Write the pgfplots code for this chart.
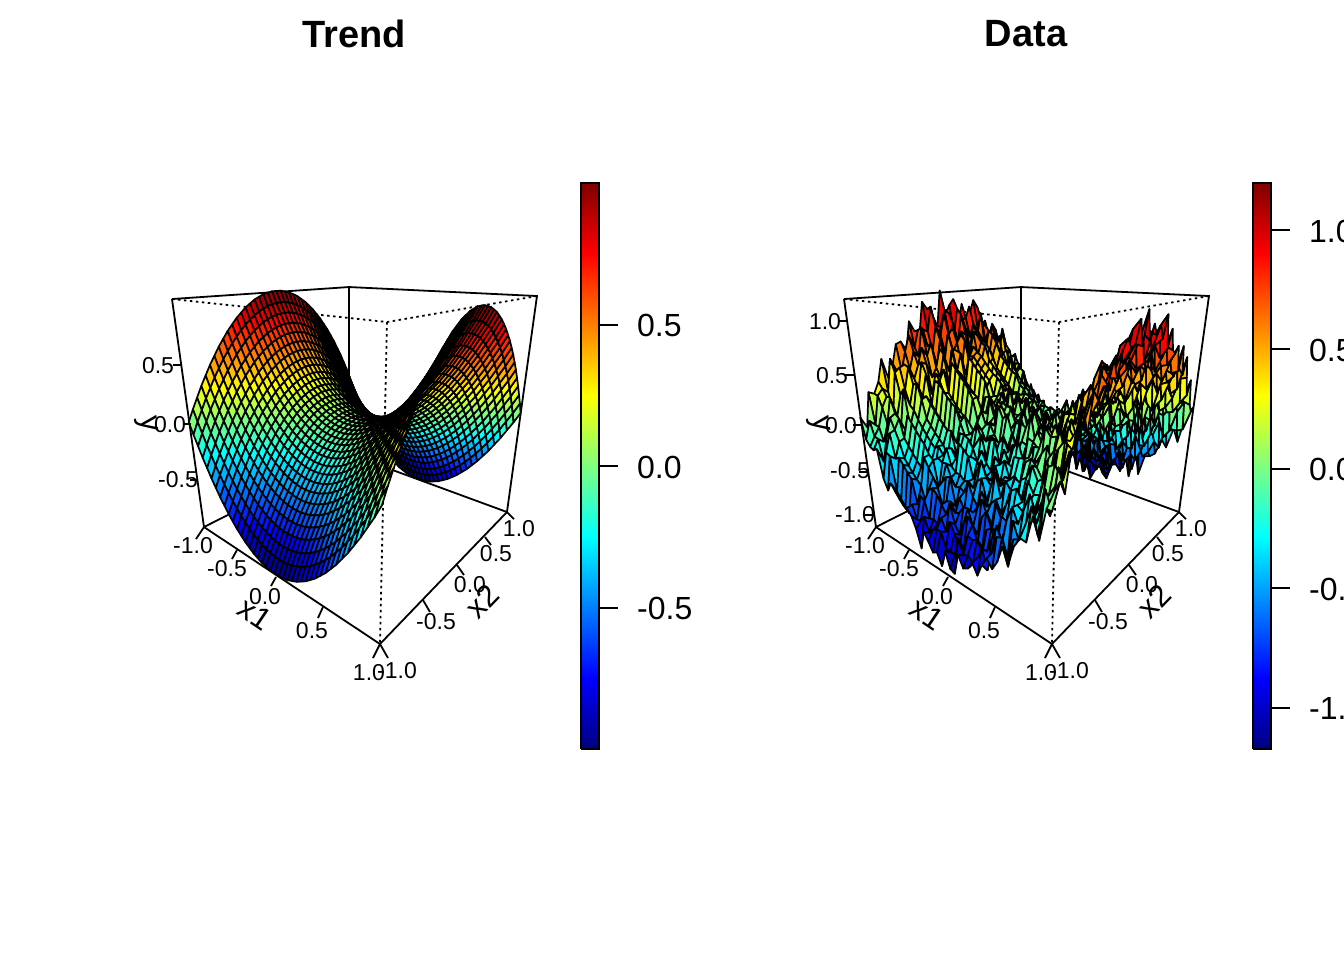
\documentclass[border=0pt]{standalone}
\usepackage{pgfplots}
\usepackage{pgfplotstable}
\usepackage{fontspec}
\setmainfont{Liberation Sans}
\pgfplotsset{compat=1.18}
\newcommand{\N}{41}
% each row of a grid is typed on its own, \R keeps it at exactly 41 values
\newtoks\dtoks
\newcount\colcnt
\def\R#1{\colcnt=0
  \pgfplotsforeachungrouped \v in {#1}{%
    \ifnum\colcnt<41
      \edef\tmp{\the\dtoks \v\space 0 0\noexpand\\ }\dtoks=\expandafter{\tmp}%
      \edef\lastv{\v}\advance\colcnt by 1
    \fi}%
  \loop\ifnum\colcnt<41
    \edef\tmp{\the\dtoks \lastv\space 0 0\noexpand\\ }\dtoks=\expandafter{\tmp}%
    \advance\colcnt by 1
  \repeat}
\def\savetable#1{\edef\tmp{\noexpand\pgfplotstableread[row sep=\noexpand\\,header=false,format=inline]{\the\dtoks}\noexpand#1}\tmp\dtoks={}}
\pgfplotsset{
  colormap={rjet}{rgb255=(0,0,127) rgb255=(0,0,255) rgb255=(0,127,255) rgb255=(0,255,255) rgb255=(127,255,127) rgb255=(255,255,0) rgb255=(255,127,0) rgb255=(255,0,0) rgb255=(127,0,0)},
  panel/.style={
    scale only axis, width=672pt, height=960pt,
    xmin=0, xmax=672, ymin=0, ymax=960, zmin=-2, zmax=2,
    y dir=reverse, view={0}{90}, hide axis, clip=false,
    anchor=south west, colormap name=rjet,
    declare function={
      rowx(\i)=-1+2*floor((\i+0.5)/41)/40;
      colx(\i)=1-2*(\i-41*floor((\i+0.5)/41))/40;
      pjw(\a,\b,\c)=1.1-0.1787*\a+0.212*\b-0.1*\c;
      pjx(\a,\b,\c)=(395.7+34.765*\a+159.54*\b-35.13*\c)/pjw(\a,\b,\c);
      pjy(\a,\b,\c)=(459.17-45.94*\a+54.83*\b-162.2*\c)/pjw(\a,\b,\c);
    },
  },
  edge/.style={black, line width=1.8pt, no markers},
  dots/.style={black, line width=1.8pt, no markers, dash pattern=on 2.5pt off 3.5pt},
  facets/.style={surf, shader=faceted, faceted color=black, line width=1.7pt, line join=round, z buffer=none},
}
% Trend
\R{0,.10,.19,.28,.36,.44,.51,.58,.64,.70,
.75,.80,.84,.88,.91,.94,.96,.98,.99,1,
1,1,.99,.98,.96,.94,.91,.88,.84,.80,
.75,.70,.64,.58,.51,.44,.36,.28,.19,.10,0}
\R{-.10,0,.09,.18,.26,.34,.41,.48,.54,.60,
.65,.70,.74,.78,.81,.84,.86,.88,.89,.90,
.90,.90,.89,.88,.86,.84,.81,.78,.74,.70,
.65,.60,.54,.48,.41,.34,.26,.18,.09,0,-.10}
\R{-.19,-.09,0,.09,.17,.25,.32,.39,.45,.51,
.56,.61,.65,.69,.72,.75,.77,.79,.80,.81,
.81,.81,.80,.79,.77,.75,.72,.69,.65,.61,
.56,.51,.45,.39,.32,.25,.17,.09,0,-.09,-.19}
\R{-.28,-.18,-.09,0,.08,.16,.23,.30,.36,.42,
.47,.52,.56,.60,.63,.66,.68,.70,.71,.72,
.72,.72,.71,.70,.68,.66,.63,.60,.56,.52,
.47,.42,.36,.30,.23,.16,.08,0,-.09,-.18,-.28}
\R{-.36,-.26,-.17,-.08,0,.08,.15,.22,.28,.34,
.39,.44,.48,.52,.55,.58,.60,.62,.63,.64,
.64,.64,.63,.62,.60,.58,.55,.52,.48,.44,
.39,.34,.28,.22,.15,.08,0,-.08,-.17,-.26,-.36}
\R{-.44,-.34,-.25,-.16,-.08,0,.07,.14,.20,.26,
.31,.36,.40,.44,.47,.50,.52,.54,.55,.56,
.56,.56,.55,.54,.52,.50,.47,.44,.40,.36,
.31,.26,.20,.14,.07,0,-.08,-.16,-.25,-.34,-.44}
\R{-.51,-.41,-.32,-.23,-.15,-.07,0,.07,.13,.19,
.24,.29,.33,.37,.40,.43,.45,.47,.48,.49,
.49,.49,.48,.47,.45,.43,.40,.37,.33,.29,
.24,.19,.13,.07,0,-.07,-.15,-.23,-.32,-.41,-.51}
\R{-.58,-.48,-.39,-.30,-.22,-.14,-.07,0,.06,.12,
.17,.22,.26,.30,.33,.36,.38,.40,.41,.42,
.42,.42,.41,.40,.38,.36,.33,.30,.26,.22,
.17,.12,.06,0,-.07,-.14,-.22,-.30,-.39,-.48,-.58}
\R{-.64,-.54,-.45,-.36,-.28,-.20,-.13,-.06,0,.06,
.11,.16,.20,.24,.27,.30,.32,.34,.35,.36,
.36,.36,.35,.34,.32,.30,.27,.24,.20,.16,
.11,.06,0,-.06,-.13,-.20,-.28,-.36,-.45,-.54,-.64}
\R{-.70,-.60,-.51,-.42,-.34,-.26,-.19,-.12,-.06,0,
.05,.10,.14,.18,.21,.24,.26,.28,.29,.30,
.30,.30,.29,.28,.26,.24,.21,.18,.14,.10,
.05,0,-.06,-.12,-.19,-.26,-.34,-.42,-.51,-.60,-.70}
\R{-.75,-.65,-.56,-.47,-.39,-.31,-.24,-.17,-.11,-.05,
0,.05,.09,.13,.16,.19,.21,.23,.24,.25,
.25,.25,.24,.23,.21,.19,.16,.13,.09,.05,
0,-.05,-.11,-.17,-.24,-.31,-.39,-.47,-.56,-.65,-.75}
\R{-.80,-.70,-.61,-.52,-.44,-.36,-.29,-.22,-.16,-.10,
-.05,0,.04,.08,.11,.14,.16,.18,.19,.20,
.20,.20,.19,.18,.16,.14,.11,.08,.04,0,
-.05,-.10,-.16,-.22,-.29,-.36,-.44,-.52,-.61,-.70,-.80}
\R{-.84,-.74,-.65,-.56,-.48,-.40,-.33,-.26,-.20,-.14,
-.09,-.04,0,.04,.07,.10,.12,.14,.15,.16,
.16,.16,.15,.14,.12,.10,.07,.04,0,-.04,
-.09,-.14,-.20,-.26,-.33,-.40,-.48,-.56,-.65,-.74,-.84}
\R{-.88,-.78,-.69,-.60,-.52,-.44,-.37,-.30,-.24,-.18,
-.13,-.08,-.04,0,.03,.06,.08,.10,.11,.12,
.12,.12,.11,.10,.08,.06,.03,0,-.04,-.08,
-.13,-.18,-.24,-.30,-.37,-.44,-.52,-.60,-.69,-.78,-.88}
\R{-.91,-.81,-.72,-.63,-.55,-.47,-.40,-.33,-.27,-.21,
-.16,-.11,-.07,-.03,0,.03,.05,.07,.08,.09,
.09,.09,.08,.07,.05,.03,0,-.03,-.07,-.11,
-.16,-.21,-.27,-.33,-.40,-.47,-.55,-.63,-.72,-.81,-.91}
\R{-.94,-.84,-.75,-.66,-.58,-.50,-.43,-.36,-.30,-.24,
-.19,-.14,-.10,-.06,-.03,0,.02,.04,.05,.06,
.06,.06,.05,.04,.02,0,-.03,-.06,-.10,-.14,
-.19,-.24,-.30,-.36,-.43,-.50,-.58,-.66,-.75,-.84,-.94}
\R{-.96,-.86,-.77,-.68,-.60,-.52,-.45,-.38,-.32,-.26,
-.21,-.16,-.12,-.08,-.05,-.02,0,.02,.03,.04,
.04,.04,.03,.02,0,-.02,-.05,-.08,-.12,-.16,
-.21,-.26,-.32,-.38,-.45,-.52,-.60,-.68,-.77,-.86,-.96}
\R{-.98,-.88,-.79,-.70,-.62,-.54,-.47,-.40,-.34,-.28,
-.23,-.18,-.14,-.10,-.07,-.04,-.02,0,.01,.02,
.02,.02,.01,0,-.02,-.04,-.07,-.10,-.14,-.18,
-.23,-.28,-.34,-.40,-.47,-.54,-.62,-.70,-.79,-.88,-.98}
\R{-.99,-.89,-.80,-.71,-.63,-.55,-.48,-.41,-.35,-.29,
-.24,-.19,-.15,-.11,-.08,-.05,-.03,-.01,0,.01,
.01,.01,0,-.01,-.03,-.05,-.08,-.11,-.15,-.19,
-.24,-.29,-.35,-.41,-.48,-.55,-.63,-.71,-.80,-.89,-.99}
\R{-1,-.90,-.81,-.72,-.64,-.56,-.49,-.42,-.36,-.30,
-.25,-.20,-.16,-.12,-.09,-.06,-.04,-.02,-.01,0,
0,0,-.01,-.02,-.04,-.06,-.09,-.12,-.16,-.20,
-.25,-.30,-.36,-.42,-.49,-.56,-.64,-.72,-.81,-.90,-1}
\R{-1,-.90,-.81,-.72,-.64,-.56,-.49,-.42,-.36,-.30,
-.25,-.20,-.16,-.12,-.09,-.06,-.04,-.02,-.01,0,
0,0,-.01,-.02,-.04,-.06,-.09,-.12,-.16,-.20,
-.25,-.30,-.36,-.42,-.49,-.56,-.64,-.72,-.81,-.90,-1}
\R{-1,-.90,-.81,-.72,-.64,-.56,-.49,-.42,-.36,-.30,
-.25,-.20,-.16,-.12,-.09,-.06,-.04,-.02,-.01,0,
0,0,-.01,-.02,-.04,-.06,-.09,-.12,-.16,-.20,
-.25,-.30,-.36,-.42,-.49,-.56,-.64,-.72,-.81,-.90,-1}
\R{-.99,-.89,-.80,-.71,-.63,-.55,-.48,-.41,-.35,-.29,
-.24,-.19,-.15,-.11,-.08,-.05,-.03,-.01,0,.01,
.01,.01,0,-.01,-.03,-.05,-.08,-.11,-.15,-.19,
-.24,-.29,-.35,-.41,-.48,-.55,-.63,-.71,-.80,-.89,-.99}
\R{-.98,-.88,-.79,-.70,-.62,-.54,-.47,-.40,-.34,-.28,
-.23,-.18,-.14,-.10,-.07,-.04,-.02,0,.01,.02,
.02,.02,.01,0,-.02,-.04,-.07,-.10,-.14,-.18,
-.23,-.28,-.34,-.40,-.47,-.54,-.62,-.70,-.79,-.88,-.98}
\R{-.96,-.86,-.77,-.68,-.60,-.52,-.45,-.38,-.32,-.26,
-.21,-.16,-.12,-.08,-.05,-.02,0,.02,.03,.04,
.04,.04,.03,.02,0,-.02,-.05,-.08,-.12,-.16,
-.21,-.26,-.32,-.38,-.45,-.52,-.60,-.68,-.77,-.86,-.96}
\R{-.94,-.84,-.75,-.66,-.58,-.50,-.43,-.36,-.30,-.24,
-.19,-.14,-.10,-.06,-.03,0,.02,.04,.05,.06,
.06,.06,.05,.04,.02,0,-.03,-.06,-.10,-.14,
-.19,-.24,-.30,-.36,-.43,-.50,-.58,-.66,-.75,-.84,-.94}
\R{-.91,-.81,-.72,-.63,-.55,-.47,-.40,-.33,-.27,-.21,
-.16,-.11,-.07,-.03,0,.03,.05,.07,.08,.09,
.09,.09,.08,.07,.05,.03,0,-.03,-.07,-.11,
-.16,-.21,-.27,-.33,-.40,-.47,-.55,-.63,-.72,-.81,-.91}
\R{-.88,-.78,-.69,-.60,-.52,-.44,-.37,-.30,-.24,-.18,
-.13,-.08,-.04,0,.03,.06,.08,.10,.11,.12,
.12,.12,.11,.10,.08,.06,.03,0,-.04,-.08,
-.13,-.18,-.24,-.30,-.37,-.44,-.52,-.60,-.69,-.78,-.88}
\R{-.84,-.74,-.65,-.56,-.48,-.40,-.33,-.26,-.20,-.14,
-.09,-.04,0,.04,.07,.10,.12,.14,.15,.16,
.16,.16,.15,.14,.12,.10,.07,.04,0,-.04,
-.09,-.14,-.20,-.26,-.33,-.40,-.48,-.56,-.65,-.74,-.84}
\R{-.80,-.70,-.61,-.52,-.44,-.36,-.29,-.22,-.16,-.10,
-.05,0,.04,.08,.11,.14,.16,.18,.19,.20,
.20,.20,.19,.18,.16,.14,.11,.08,.04,0,
-.05,-.10,-.16,-.22,-.29,-.36,-.44,-.52,-.61,-.70,-.80}
\R{-.75,-.65,-.56,-.47,-.39,-.31,-.24,-.17,-.11,-.05,
0,.05,.09,.13,.16,.19,.21,.23,.24,.25,
.25,.25,.24,.23,.21,.19,.16,.13,.09,.05,
0,-.05,-.11,-.17,-.24,-.31,-.39,-.47,-.56,-.65,-.75}
\R{-.70,-.60,-.51,-.42,-.34,-.26,-.19,-.12,-.06,0,
.05,.10,.14,.18,.21,.24,.26,.28,.29,.30,
.30,.30,.29,.28,.26,.24,.21,.18,.14,.10,
.05,0,-.06,-.12,-.19,-.26,-.34,-.42,-.51,-.60,-.70}
\R{-.64,-.54,-.45,-.36,-.28,-.20,-.13,-.06,0,.06,
.11,.16,.20,.24,.27,.30,.32,.34,.35,.36,
.36,.36,.35,.34,.32,.30,.27,.24,.20,.16,
.11,.06,0,-.06,-.13,-.20,-.28,-.36,-.45,-.54,-.64}
\R{-.58,-.48,-.39,-.30,-.22,-.14,-.07,0,.06,.12,
.17,.22,.26,.30,.33,.36,.38,.40,.41,.42,
.42,.42,.41,.40,.38,.36,.33,.30,.26,.22,
.17,.12,.06,0,-.07,-.14,-.22,-.30,-.39,-.48,-.58}
\R{-.51,-.41,-.32,-.23,-.15,-.07,0,.07,.13,.19,
.24,.29,.33,.37,.40,.43,.45,.47,.48,.49,
.49,.49,.48,.47,.45,.43,.40,.37,.33,.29,
.24,.19,.13,.07,0,-.07,-.15,-.23,-.32,-.41,-.51}
\R{-.44,-.34,-.25,-.16,-.08,0,.07,.14,.20,.26,
.31,.36,.40,.44,.47,.50,.52,.54,.55,.56,
.56,.56,.55,.54,.52,.50,.47,.44,.40,.36,
.31,.26,.20,.14,.07,0,-.08,-.16,-.25,-.34,-.44}
\R{-.36,-.26,-.17,-.08,0,.08,.15,.22,.28,.34,
.39,.44,.48,.52,.55,.58,.60,.62,.63,.64,
.64,.64,.63,.62,.60,.58,.55,.52,.48,.44,
.39,.34,.28,.22,.15,.08,0,-.08,-.17,-.26,-.36}
\R{-.28,-.18,-.09,0,.08,.16,.23,.30,.36,.42,
.47,.52,.56,.60,.63,.66,.68,.70,.71,.72,
.72,.72,.71,.70,.68,.66,.63,.60,.56,.52,
.47,.42,.36,.30,.23,.16,.08,0,-.09,-.18,-.28}
\R{-.19,-.09,0,.09,.17,.25,.32,.39,.45,.51,
.56,.61,.65,.69,.72,.75,.77,.79,.80,.81,
.81,.81,.80,.79,.77,.75,.72,.69,.65,.61,
.56,.51,.45,.39,.32,.25,.17,.09,0,-.09,-.19}
\R{-.10,0,.09,.18,.26,.34,.41,.48,.54,.60,
.65,.70,.74,.78,.81,.84,.86,.88,.89,.90,
.90,.90,.89,.88,.86,.84,.81,.78,.74,.70,
.65,.60,.54,.48,.41,.34,.26,.18,.09,0,-.10}
\R{0,.10,.19,.28,.36,.44,.51,.58,.64,.70,
.75,.80,.84,.88,.91,.94,.96,.98,.99,1,
1,1,.99,.98,.96,.94,.91,.88,.84,.80,
.75,.70,.64,.58,.51,.44,.36,.28,.19,.10,0}
\savetable{\trendtable}
% Data
\R{.08,.05,.32,.30,.25,.41,.68,.49,.68,.76,
.61,.81,.77,.98,1.06,.92,.84,1.03,.80,1.09,
1.03,.94,1.19,.82,.95,1.01,1.09,.78,.80,.91,
.62,.72,.70,.50,.36,.58,.36,.25,.28,-.07,.05}
\R{-.01,.03,.03,.30,.10,.33,.48,.66,.44,.56,
.76,.57,.76,.84,.73,.69,1.00,.88,.86,.99,
.73,.95,.99,.82,.74,1.04,.79,.82,.82,.65,
.78,.62,.43,.45,.58,.25,.30,.24,-.05,.01,-.17}
\R{-.10,-.26,.05,.19,.23,.10,.42,.36,.33,.62,
.48,.63,.71,.59,.92,.70,.80,.67,.77,.93,
.64,.84,.71,.96,.74,.84,.58,.65,.85,.56,
.62,.45,.51,.49,.45,.07,.23,.13,-.06,-.14,-.23}
\R{-.42,-.17,-.16,.10,.23,.14,.23,.27,.45,.26,
.48,.45,.66,.72,.47,.66,.75,.82,.55,.72,
.76,.63,.81,.75,.56,.71,.44,.69,.57,.66,
.49,.36,.49,.27,.23,.02,.23,-.03,-.20,-.15,-.25}
\R{-.49,-.24,-.11,-.16,.07,.20,.15,.29,.12,.46,
.44,.38,.54,.68,.44,.60,.65,.70,.75,.48,
.64,.74,.66,.57,.77,.50,.63,.44,.35,.50,
.53,.25,.32,.12,.30,-.04,.08,.05,-.13,-.38,-.22}
\R{-.49,-.21,-.23,-.27,-.11,.17,-.02,.18,.26,.17,
.32,.29,.50,.59,.45,.55,.33,.63,.49,.60,
.50,.68,.39,.59,.62,.39,.58,.35,.40,.19,
.42,.19,.35,.08,-.08,-.10,.04,-.06,-.08,-.26,-.52}
\R{-.48,-.47,-.20,-.39,-.16,.00,.18,-.03,.09,.26,
.42,.19,.29,.48,.27,.44,.39,.60,.44,.55,
.51,.43,.33,.57,.39,.62,.26,.44,.33,.34,
.11,.21,.19,-.01,-.14,.07,-.15,-.17,-.33,-.28,-.63}
\R{-.75,-.43,-.33,-.42,-.07,-.04,-.15,.02,.10,.18,
.03,.23,.19,.40,.48,.34,.26,.45,.22,.51,
.45,.36,.53,.24,.37,.43,.51,.20,.22,.33,
.04,.14,.00,-.08,-.22,0,-.22,-.33,-.30,-.65,-.53}
\R{-.60,-.48,-.32,-.46,-.17,-.17,.04,-.15,.06,.12,
-.03,.17,.13,.34,.42,.28,.20,.39,.16,.45,
.39,.30,.47,.18,.31,.37,.45,.14,.16,.27,
-.02,.08,-.06,-.14,-.28,-.06,-.28,-.39,-.36,-.71,-.59}
\R{-.56,-.43,-.38,-.50,-.49,-.12,-.19,-.15,-.10,.06,
-.08,.11,.07,.28,.36,.22,.14,.33,.10,.39,
.33,.24,.41,.12,.25,.31,.39,.08,.10,.21,
-.08,.02,-.12,-.20,-.34,-.12,-.34,-.45,-.42,-.77,-.65}
\R{-.62,-.70,-.43,-.45,-.50,-.34,-.07,-.26,-.07,.01,
-.14,.06,.02,.23,.31,.17,.09,.28,.05,.34,
.28,.19,.36,.07,.20,.26,.34,.03,.05,.16,
-.13,-.03,-.17,-.25,-.39,-.17,-.39,-.50,-.47,-.82,-.70}
\R{-.86,-.58,-.77,-.36,-.45,-.35,-.22,-.18,-.05,-.21,
-.01,-.13,.03,.04,.29,.06,.18,.21,.16,.31,
.12,.11,.30,.03,.12,.22,.27,-.02,.00,.13,
-.21,-.08,-.22,-.21,-.44,-.26,-.27,-.55,-.72,-.70,-.71}
\R{-.89,-.64,-.68,-.66,-.60,-.30,-.33,-.20,-.12,-.25,
-.12,-.13,-.05,.08,.18,-.03,.12,.05,.16,.25,
.13,.06,.12,.16,-.02,.19,.18,-.06,.04,-.02,
-.22,-.07,-.33,-.29,-.30,-.30,-.36,-.73,-.61,-.84,-.77}
\R{-.78,-.93,-.73,-.62,-.50,-.42,-.40,-.26,-.37,-.21,
-.06,-.23,-.14,-.14,.14,.02,.13,.12,.21,.07,
.18,.01,.09,.18,.01,.06,-.03,-.13,-.15,-.14,
-.10,-.31,-.22,-.20,-.33,-.59,-.44,-.55,-.64,-.83,-.89}
\R{-1.01,-.86,-.82,-.52,-.46,-.62,-.45,-.31,-.31,-.16,
-.14,-.09,.07,-.20,.03,.08,.11,.15,.02,.13,
.01,.08,.00,.03,.17,-.13,.08,-.03,-.10,-.25,
-.10,-.23,-.31,-.37,-.32,-.49,-.53,-.51,-.81,-.76,-1.08}
\R{-.89,-.98,-.64,-.65,-.69,-.52,-.57,-.21,-.32,-.33,
-.10,-.24,-.03,-.01,-.15,.04,.14,.06,.13,.06,
.26,-.04,.13,-.09,.00,-.04,-.05,-.09,-.02,-.25,
-.13,-.30,-.14,-.42,-.45,-.42,-.72,-.56,-.79,-.91,-.87}
\R{-.96,-.83,-.82,-.60,-.62,-.34,-.41,-.47,-.29,-.33,
-.13,-.26,-.20,.02,-.09,-.17,.12,-.01,.07,.15,
-.02,.08,.10,.00,.20,-.06,-.03,-.20,-.16,-.16,
-.21,-.36,-.18,-.42,-.53,-.40,-.63,-.64,-.82,-.85,-.95}
\R{-.88,-1.07,-.66,-.74,-.55,-.47,-.39,-.39,-.40,-.28,
-.18,-.23,-.26,.04,-.01,-.10,.06,.07,.14,-.03,
-.02,-.04,.09,-.05,.12,.16,-.13,-.12,-.16,-.07,
-.35,-.27,-.23,-.47,-.51,-.69,-.61,-.72,-.73,-.82,-1.04}
\R{-1.11,-.82,-.78,-.80,-.58,-.49,-.38,-.43,-.22,-.23,
-.27,-.25,-.18,-.19,.01,-.13,-.02,.12,.02,.09,
.04,-.05,-.05,-.10,.02,.04,-.22,-.14,-.11,-.30,
-.20,-.29,-.45,-.45,-.54,-.58,-.71,-.58,-.85,-.82,-1.01}
\R{-.98,-1.06,-.75,-.66,-.75,-.49,-.46,-.51,-.32,-.42,
-.11,-.32,-.14,-.20,-.01,-.19,-.13,.03,-.06,.03,
.17,-.02,-.09,-.03,-.20,.10,-.11,-.16,-.28,-.10,
-.31,-.38,-.34,-.50,-.41,-.68,-.68,-.78,-.72,-.97,-1.13}
\R{-1.17,-.77,-.87,-.61,-.67,-.43,-.47,-.32,-.42,-.21,
-.33,-.10,-.21,-.03,-.27,.03,-.13,-.08,.00,.06,
-.14,-.05,.09,-.01,-.21,-.08,-.21,-.10,-.36,-.07,
-.38,-.41,-.22,-.41,-.55,-.74,-.60,-.86,-.82,-.98,-.94}
\R{-1.04,-.91,-.86,-.83,-.55,-.63,-.36,-.48,-.43,-.11,
-.28,-.14,-.03,-.09,-.07,-.08,.06,-.13,-.05,.11,
.06,-.10,-.12,-.06,.08,-.22,-.06,-.22,-.22,-.31,
-.21,-.43,-.38,-.36,-.63,-.66,-.59,-.72,-.95,-.98,-1.10}
\R{-.94,-.98,-.72,-.76,-.76,-.50,-.50,-.45,-.31,-.30,
-.20,-.22,-.13,-.13,-.15,.04,.03,-.14,.09,-.16,
-.01,.07,.17,-.10,-.08,.05,-.22,-.13,-.28,-.14,
-.27,-.26,-.44,-.57,-.45,-.59,-.76,-.62,-.93,-.78,-1.12}
\R{-1.04,-.83,-.81,-.81,-.62,-.71,-.43,-.37,-.36,-.41,
-.09,-.19,-.23,-.15,.06,-.04,-.12,.03,-.16,.11,
.11,-.05,-.03,.16,-.06,.02,-.10,-.18,-.13,-.27,
-.21,-.42,-.46,-.40,-.58,-.48,-.81,-.68,-.76,-.93,-.89}
\R{-1.09,-1.01,-.76,-.73,-.72,-.39,-.50,-.31,-.27,-.35,
-.31,-.26,-.13,.04,-.06,-.07,.03,.08,.05,-.07,
-.02,.12,-.06,.01,-.12,.16,-.12,-.24,-.04,-.30,
-.37,-.33,-.40,-.24,-.52,-.60,-.61,-.83,-.78,-.90,-1.00}
\R{-.88,-.95,-.89,-.63,-.61,-.61,-.32,-.39,-.35,-.24,
-.23,-.11,-.27,.01,.08,-.08,-.05,.20,-.04,-.03,
.07,.04,.12,-.02,.01,-.11,-.06,-.06,-.21,-.21,
-.14,-.34,-.34,-.47,-.46,-.69,-.52,-.86,-.74,-.96,-.97}
\R{-.86,-.76,-.83,-.80,-.53,-.52,-.43,-.21,-.34,-.32,
-.32,-.04,-.20,-.17,.08,-.02,.13,.01,.11,.04,
.00,.16,-.05,.07,-.01,.10,-.09,-.12,.02,-.24,
-.13,-.28,-.45,-.28,-.58,-.46,-.70,-.65,-.86,-.87,-.88}
\R{-.93,-.69,-.65,-.72,-.71,-.47,-.41,-.24,-.17,-.35,
-.18,-.12,-.14,-.03,-.07,.13,.02,-.12,.20,.01,
.12,.04,-.02,.20,-.05,-.05,.04,.08,.00,-.13,
-.12,-.35,-.26,-.35,-.47,-.58,-.67,-.61,-.81,-.74,-.98}
\R{-.73,-.84,-.71,-.57,-.64,-.46,-.37,-.38,-.13,-.14,
-.31,-.09,-.06,-.05,.13,.16,.01,-.03,.02,.21,
.06,.09,.17,-.03,.04,.14,-.09,-.04,-.05,-.01,
-.33,-.16,-.29,-.41,-.34,-.60,-.50,-.76,-.66,-.93,-.84}
\R{-.96,-.57,-.71,-.66,-.42,-.45,-.48,-.24,-.26,-.10,
-.08,-.18,.05,.04,-.08,.26,.17,.03,.12,.03,
.29,.11,.23,.05,.16,.03,-.05,.15,.01,.00,
-.09,-.23,-.07,-.21,-.44,-.26,-.52,-.68,-.50,-.73,-.75}
\R{-.60,-.82,-.61,-.40,-.48,-.27,-.36,-.23,-.03,-.14,
.02,-.04,.19,.06,.04,.12,.32,.18,.25,.17,
.11,.35,.23,.23,.12,.28,.04,.08,.06,.20,
-.18,-.08,-.02,-.17,-.34,-.22,-.44,-.45,-.64,-.55,-.82}
\R{-.89,-.49,-.66,-.33,-.48,-.21,-.29,-.03,-.13,-.10,
.12,.09,-.02,.19,.31,.18,.21,.11,.34,.27,
.21,.41,.16,.28,.37,.14,.28,.04,.22,.13,
-.16,.02,-.08,-.04,-.25,-.32,-.32,-.31,-.75,-.53,-.72}
\R{-.64,-.62,-.53,-.44,-.15,-.27,-.07,-.21,-.06,.04,
.02,.11,.21,.27,.21,.26,.25,.43,.19,.41,
.22,.34,.27,.47,.15,.28,.30,.22,.03,.15,
-.06,.11,-.17,-.16,-.26,-.11,-.36,-.44,-.38,-.77,-.55}
\R{-.62,-.55,-.28,-.43,-.32,-.03,-.21,.11,-.05,.18,
.13,.04,.19,.32,.36,.25,.39,.26,.43,.44,
.23,.35,.36,.28,.43,.20,.30,.09,.30,.08,
.08,-.09,.04,-.12,-.29,-.21,-.25,-.29,-.53,-.49,-.68}
\R{-.57,-.40,-.30,-.27,-.01,-.20,-.03,-.11,.24,.08,
.25,.15,.43,.28,.26,.55,.42,.39,.46,.32,
.60,.38,.52,.38,.45,.35,.38,.50,.23,.26,
.10,.27,.13,-.07,-.06,-.19,-.29,-.13,-.46,-.46,-.49}
\R{-.38,-.46,-.13,-.02,-.15,.16,-.05,.18,.16,.27,
.13,.40,.34,.42,.48,.61,.57,.45,.56,.50,
.60,.51,.70,.36,.51,.62,.35,.39,.40,.30,
.36,.07,.11,.14,-.19,.12,-.10,-.28,-.30,-.31,-.39}
\R{-.46,-.17,-.30,-.03,.15,.05,.21,.13,.10,.43,
.42,.36,.62,.47,.62,.57,.48,.66,.71,.68,
.58,.78,.63,.60,.66,.77,.49,.58,.41,.54,
.21,.22,.35,.08,.21,-.05,.11,-.14,-.30,-.13,-.40}
\R{-.22,-.21,-.21,.06,.03,.10,.38,.21,.38,.31,
.51,.49,.56,.77,.58,.74,.65,.59,.74,.72,
.66,.87,.72,.62,.75,.71,.77,.47,.53,.64,
.44,.36,.26,.27,.30,-.01,.15,-.07,-.11,-.35,-.16}
\R{-.36,-.21,.02,.12,.05,.21,.27,.39,.41,.54,
.44,.60,.70,.57,.82,.85,.69,.71,.81,.66,
.92,.74,.84,.86,.70,.83,.57,.74,.78,.51,
.60,.54,.43,.38,.20,.30,.05,.03,-.19,.05,-.33}
\R{-.01,-.18,.14,.15,.16,.42,.33,.57,.48,.52,
.64,.62,.79,.72,.71,.99,.84,.81,.97,.72,
.97,.92,.90,1.02,.80,.78,.92,.74,.70,.66,
.75,.53,.46,.47,.56,.26,.28,.09,.21,-.10,-.05}
\R{.06,.03,.12,.39,.25,.44,.65,.49,.77,.55,
.79,.73,.77,.96,.80,1.09,.90,1.02,.94,1.04,
.91,1.16,.89,1.10,.92,.90,.98,.91,.71,.86,
.68,.69,.60,.68,.39,.60,.35,.34,.03,.15,.10}
\savetable{\datatable}
\newcommand{\panelbox}{%
  \addplot3[edge] coordinates {(172,299,0) (349,287,0) (537,296,0) (507,512,0) (349,454,0) (204,527,0) (172,299,0)};
  \addplot3[edge] coordinates {(349,287,0) (349,454,0)};
  \addplot3[edge] coordinates {(204,527,0) (380,644,0) (507,512,0)};
  \addplot3[dots] coordinates {(172,299,0) (387,322,0) (537,296,0)};
  \addplot3[dots] coordinates {(387,322,0) (380,644,0)};
}
\newcommand{\axisticks}{%
  \addplot3[edge] coordinates {(204,527,0) (196,539,0)};
  \addplot3[edge] coordinates {(237,550,0) (232,559,0)};
  \addplot3[edge] coordinates {(276,577,0) (271,586,0)};
  \addplot3[edge] coordinates {(323,607,0) (318,618,0)};
  \addplot3[edge] coordinates {(380,644,0) (373,658,0)};
  \addplot3[edge] coordinates {(380,644,0) (388,658,0)};
  \addplot3[edge] coordinates {(423,600,0) (430,612,0)};
  \addplot3[edge] coordinates {(457,565,0) (464,575,0)};
  \addplot3[edge] coordinates {(485,537,0) (491,545,0)};
  \addplot3[edge] coordinates {(507,512,0) (514,519,0)};
  \node[ticklab] at (axis cs:193,546,0) {-1.0};
  \node[ticklab] at (axis cs:227,569,0) {-0.5};
  \node[ticklab] at (axis cs:265,597,0) {0.0};
  \node[ticklab] at (axis cs:312,631,0) {0.5};
  \node[ticklab] at (axis cs:369,673,0) {1.0};
  \node[ticklab] at (axis cs:397,671,0) {-1.0};
  \node[ticklab] at (axis cs:436,622,0) {-0.5};
  \node[ticklab] at (axis cs:470,585,0) {0.0};
  \node[ticklab] at (axis cs:496,554,0) {0.5};
  \node[ticklab] at (axis cs:519,529,0) {1.0};
  \node[axlab, rotate=-34] at (axis cs:255,614,0) {x1};
  \node[axlab, rotate=46] at (axis cs:482,601,0) {x2};
  \node[axlab, rotate=-82] at (axis cs:147,424,0) {y};
}
\tikzset{
  ticklab/.style={font=\fontsize{23}{25}\selectfont, inner sep=0pt},
  axlab/.style={font=\fontsize{31}{33}\selectfont, inner sep=0pt},
  barlab/.style={font=\fontsize{32}{34}\selectfont, inner sep=0pt, anchor=west},
  titlelab/.style={font=\fontsize{38}{40}\selectfont\bfseries, inner sep=0pt},
}
\begin{document}
\begin{tikzpicture}
\clip[use as bounding box] (0pt,0pt) rectangle (1344pt,960pt);
\begin{axis}[panel, at={(0pt,0pt)}, point meta min=-1, point meta max=1]
  \panelbox
  \addplot3[facets, mesh/rows=\N] table[
    x expr={pjx(rowx(\coordindex), colx(\coordindex), \thisrowno{0})},
    y expr={pjy(rowx(\coordindex), colx(\coordindex), \thisrowno{0})},
    z expr=\thisrowno{0}] {\trendtable};
  \addplot3[surf, shader=interp, mesh/rows=2] coordinates {(581,749,-1) (599,749,-1) (581,183,1) (599,183,1)};
  \addplot3[edge] coordinates {(581,749,0) (599,749,0) (599,183,0) (581,183,0) (581,749,0)};
  \addplot3[edge] coordinates {(599,325,0) (618,325,0)};
  \addplot3[edge] coordinates {(599,466,0) (618,466,0)};
  \addplot3[edge] coordinates {(599,608,0) (618,608,0)};
  \node[barlab] at (axis cs:637,325,0) {0.5};
  \node[barlab] at (axis cs:637,467,0) {0.0};
  \node[barlab] at (axis cs:637,608,0) {-0.5};
  \axisticks
  \addplot3[edge] coordinates {(182,365,0) (173,365,0)};
  \addplot3[edge] coordinates {(191,424,0) (183,424,0)};
  \addplot3[edge] coordinates {(198,480,0) (190,480,0)};
  \node[ticklab] at (axis cs:158,366,0) {0.5};
  \node[ticklab] at (axis cs:170,425,0) {0.0};
  \node[ticklab] at (axis cs:178,480,0) {-0.5};
  \node[titlelab] at (axis cs:354,34,0) {Trend};
\end{axis}
\begin{axis}[panel, at={(672pt,0pt)}, point meta min=-1.17, point meta max=1.194]
  \panelbox
  \addplot3[facets, mesh/rows=\N] table[
    x expr={pjx(rowx(\coordindex), colx(\coordindex), \thisrowno{0}/1.18)},
    y expr={pjy(rowx(\coordindex), colx(\coordindex), \thisrowno{0}/1.18)},
    z expr=\thisrowno{0}] {\datatable};
  \addplot3[surf, shader=interp, mesh/rows=2] coordinates {(581,749,-1.17) (599,749,-1.17) (581,183,1.194) (599,183,1.194)};
  \addplot3[edge] coordinates {(581,749,0) (599,749,0) (599,183,0) (581,183,0) (581,749,0)};
  \addplot3[edge] coordinates {(599,230,0) (618,230,0)};
  \addplot3[edge] coordinates {(599,349,0) (618,349,0)};
  \addplot3[edge] coordinates {(599,469,0) (618,469,0)};
  \addplot3[edge] coordinates {(599,588,0) (618,588,0)};
  \addplot3[edge] coordinates {(599,708,0) (618,708,0)};
  \node[barlab] at (axis cs:637,231,0) {1.0};
  \node[barlab] at (axis cs:637,350,0) {0.5};
  \node[barlab] at (axis cs:637,469,0) {0.0};
  \node[barlab] at (axis cs:637,589,0) {-0.5};
  \node[barlab] at (axis cs:637,708,0) {-1.0};
  \axisticks
  \addplot3[edge] coordinates {(175,321,0) (166,321,0)};
  \addplot3[edge] coordinates {(183,375,0) (173,375,0)};
  \addplot3[edge] coordinates {(191,425,0) (181,425,0)};
  \addplot3[edge] coordinates {(196,472,0) (187,472,0)};
  \addplot3[edge] coordinates {(202,515,0) (193,515,0)};
  \node[ticklab] at (axis cs:153,322,0) {1.0};
  \node[ticklab] at (axis cs:160,376,0) {0.5};
  \node[ticklab] at (axis cs:169,426,0) {0.0};
  \node[ticklab] at (axis cs:178,471,0) {-0.5};
  \node[ticklab] at (axis cs:183,515,0) {-1.0};
  \node[titlelab] at (axis cs:354,34,0) {Data};
\end{axis}
\end{tikzpicture}
\end{document}
